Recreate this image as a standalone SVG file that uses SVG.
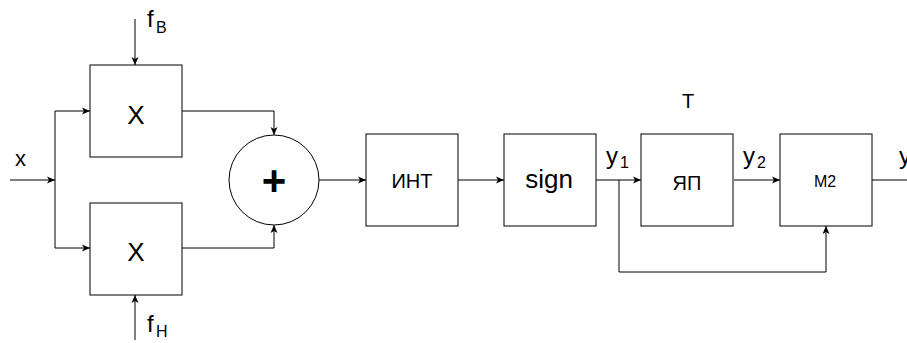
<svg xmlns="http://www.w3.org/2000/svg" width="907" height="343" viewBox="0 0 907 343">
<style>
.box{fill:#fff;stroke:#000;stroke-width:1}
.ln{fill:none;stroke:#000;stroke-width:1}
.t{font-family:"Liberation Sans",Arial,sans-serif;fill:#000}
.c{text-anchor:middle}
</style>
<defs>
<marker id="ar" markerWidth="9" markerHeight="8" refX="8" refY="4" orient="auto" markerUnits="userSpaceOnUse">
<path d="M0,0.5 L8,4 L0,7.5 L2,4 Z" fill="#000"/>
</marker>
</defs>
<rect width="907" height="343" fill="#fff"/>
<g id="connectors" class="ln">
<path d="M10,180 H55" marker-end="url(#ar)"/>
<path d="M55,111 V248"/>
<path d="M55,111 H90" marker-end="url(#ar)"/>
<path d="M55,248 H90" marker-end="url(#ar)"/>
<path d="M135,19 V65" marker-end="url(#ar)"/>
<path d="M135,340 V295" marker-end="url(#ar)"/>
<path d="M182,111 H274 V135" marker-end="url(#ar)"/>
<path d="M182,248 H274 V225" marker-end="url(#ar)"/>
<path d="M319,180 H366" marker-end="url(#ar)"/>
<path d="M458,180 H504" marker-end="url(#ar)"/>
<path d="M596,180 H641" marker-end="url(#ar)"/>
<path d="M619,180 V272 H826 V226" marker-end="url(#ar)"/>
<path d="M734,180 H780" marker-end="url(#ar)"/>
<path d="M872,180 H907"/>
</g>
<g id="mulTop"><rect class="box" x="90" y="65" width="92" height="92"/><text class="t c" x="136" y="124" font-size="26">X</text></g>
<g id="mulBot"><rect class="box" x="90" y="203" width="92" height="92"/><text class="t c" x="136" y="261" font-size="26">X</text></g>
<g id="sum"><circle class="box" cx="274" cy="180" r="45"/><text class="t c" x="274" y="195" font-size="42" font-weight="bold">+</text></g>
<g id="int"><rect class="box" x="366" y="134" width="92" height="92"/><text class="t c" x="412" y="188" font-size="20">ИНТ</text></g>
<g id="sign"><rect class="box" x="504" y="134" width="92" height="92"/><text class="t c" x="549" y="188" font-size="26">sign</text></g>
<g id="yap"><rect class="box" x="641" y="134" width="92" height="92"/><text class="t c" x="687" y="190" font-size="20">ЯП</text></g>
<g id="m2"><rect class="box" x="780" y="134" width="92" height="92"/><text class="t c" x="825" y="187" font-size="16">M2</text></g>
<g id="labels" class="t">
<text x="15" y="166" font-size="22">x</text>
<text x="147" y="27" font-size="24">f</text><text x="156" y="33" font-size="16">B</text>
<text x="147" y="332" font-size="24">f</text><text x="156" y="337" font-size="16">H</text>
<text class="c" x="688" y="108" font-size="20">T</text>
<text x="606" y="164" font-size="24">y</text><text x="620" y="168" font-size="16">1</text>
<text x="743" y="164" font-size="24">y</text><text x="757" y="168" font-size="16">2</text>
<text x="899" y="164" font-size="24">y</text>
</g>
</svg>
